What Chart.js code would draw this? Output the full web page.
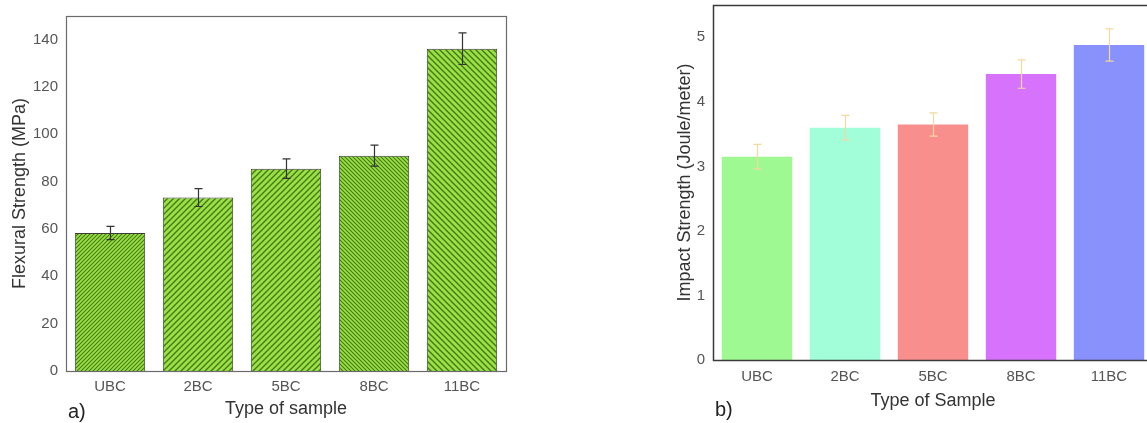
<!DOCTYPE html>
<html>
<head>
<meta charset="utf-8">
<script src="https://cdn.jsdelivr.net/npm/chart.js@4.4.0/dist/chart.umd.min.js"></script>
<style>
  html, body { margin: 0; padding: 0; background: #fff; overflow: hidden; width: 1147px; height: 423px; }
  #left { position: absolute; left: 0; top: 0; }
  #right { position: absolute; left: 640px; top: 0; }
  .tag { position: absolute; font-family: "Liberation Sans", Arial, sans-serif; font-size: 20px; color: #222; line-height: 1; }
</style>
</head>
<body>
<canvas id="left" width="520" height="423"></canvas>
<canvas id="right" width="520" height="423"></canvas>
<div class="tag" style="left:68px; top:401px;">a)</div>
<div class="tag" style="left:715px; top:399px;">b)</div>
<script>
// data
const samples = ["UBC", "2BC", "5BC", "8BC", "11BC"];
const flexural = [58.3, 73.3, 85.5, 91.0, 136.2];
const flexuralErr = [2.8, 3.8, 4.1, 4.4, 6.7];
const flexTicks = [0, 20, 40, 60, 80, 100, 120, 140];

const impact = [3.15, 3.6, 3.65, 4.43, 4.88];
const impactErr = [0.19, 0.19, 0.18, 0.22, 0.25];
const impactTicks = [0, 1, 2, 3, 4, 5];

const FONT = "'Liberation Sans', Arial, sans-serif";

// hatch style per bar on the left panel: direction (1 = "/", -1 = "\") and spacing
const hatchDir = [1, 1, 1, -1, -1];
const hatchGap = [4, 6, 6, 4, 6];
const impactColors = ["#9ef993", "#a2fdd9", "#f88f8c", "#d672fb", "#8991fd"];

function hatch(ctx, dir, gap) {
  const c = document.createElement("canvas");
  c.width = gap; c.height = gap;
  const g = c.getContext("2d");
  g.fillStyle = "#9be046";
  g.fillRect(0, 0, gap, gap);
  g.strokeStyle = "#437a14";
  g.lineWidth = gap > 4 ? 1.4 : 1.1;
  g.beginPath();
  if (dir > 0) {
    g.moveTo(-1, gap + 1); g.lineTo(gap + 1, -1);
    g.moveTo(-1, 1); g.lineTo(1, -1);
    g.moveTo(gap - 1, gap + 1); g.lineTo(gap + 1, gap - 1);
  } else {
    g.moveTo(-1, -1); g.lineTo(gap + 1, gap + 1);
    g.moveTo(gap - 1, -1); g.lineTo(gap + 1, 1);
    g.moveTo(-1, gap - 1); g.lineTo(1, gap + 1);
  }
  g.stroke();
  return ctx.createPattern(c, "repeat");
}

const errorBars = {
  id: "errorBars",
  afterDatasetsDraw(chart, args, opts) {
    const ctx = chart.ctx;
    const y = chart.scales.y;
    const meta = chart.getDatasetMeta(0);
    const vals = chart.data.datasets[0].data;
    ctx.save();
    ctx.strokeStyle = opts.color;
    ctx.lineWidth = opts.width;
    meta.data.forEach((bar, i) => {
      const x = Math.round(bar.x) + 0.5;
      const top = y.getPixelForValue(vals[i] + opts.errors[i]);
      const bot = y.getPixelForValue(vals[i] - opts.errors[i]);
      ctx.beginPath();
      ctx.moveTo(x, top); ctx.lineTo(x, bot);
      ctx.moveTo(x - opts.cap, top); ctx.lineTo(x + opts.cap, top);
      ctx.moveTo(x - opts.cap, bot); ctx.lineTo(x + opts.cap, bot);
      ctx.stroke();
    });
    ctx.restore();
  }
};

const frame = {
  id: "frame",
  afterDraw(chart, args, opts) {
    const a = chart.chartArea;
    const ctx = chart.ctx;
    ctx.save();
    ctx.strokeStyle = opts.color;
    ctx.lineWidth = opts.width;
    ctx.strokeRect(a.left + 0.5, a.top + 0.5, a.right - a.left, a.bottom - a.top);
    ctx.restore();
  }
};

// stop the axes from adding extra space for half-labels
function noPad(s) {
  s.paddingTop = 0; s.paddingBottom = 0; s.paddingLeft = 0; s.paddingRight = 0;
}

const leftCtx = document.getElementById("left").getContext("2d");
const patterns = samples.map((s, i) => hatch(leftCtx, hatchDir[i], hatchGap[i]));

const flexChart = new Chart(leftCtx, {
  type: "bar",
  data: {
    labels: samples,
    datasets: [{
      data: flexural,
      backgroundColor: patterns,
      borderColor: "#3a3a3a",
      borderWidth: 1,
      barPercentage: 0.8,
      categoryPercentage: 1,
    }],
  },
  options: {
    responsive: false,
    animation: false,
    devicePixelRatio: 1,
    layout: { padding: { top: 16, right: 14, bottom: 0, left: 0 } },
    plugins: {
      legend: { display: false },
      tooltip: { enabled: false },
      errorBars: { errors: flexuralErr, color: "#333", width: 1.2, cap: 4 },
      frame: { color: "#6b6b6b", width: 1.2 },
    },
    scales: {
      x: {
        grid: { display: false },
        border: { display: false },
        ticks: { color: "#555", font: { family: FONT, size: 15 }, padding: -1 },
        title: { display: true, text: "Type of sample", color: "#333", font: { family: FONT, size: 18 }, padding: { top: 0, bottom: 3 } },
        afterFit: (s) => { s.height = 52; noPad(s); },
      },
      y: {
        min: 0,
        max: 150,
        grid: { display: false },
        border: { display: false },
        afterBuildTicks: (s) => { s.ticks = flexTicks.map((v) => ({ value: v })); },
        ticks: { color: "#555", font: { family: FONT, size: 15 }, padding: 0 },
        title: { display: true, text: "Flexural Strength (MPa)", color: "#333", font: { family: FONT, size: 18 }, padding: { top: 9, bottom: 0 } },
        afterFit: (s) => { s.width = 66; noPad(s); },
      },
    },
  },
  plugins: [errorBars, frame],
});

const impactChart = new Chart(document.getElementById("right"), {
  type: "bar",
  data: {
    labels: samples,
    datasets: [{
      data: impact,
      backgroundColor: impactColors,
      borderWidth: 0,
      barPercentage: 0.8,
      categoryPercentage: 1,
    }],
  },
  options: {
    responsive: false,
    animation: false,
    devicePixelRatio: 1,
    layout: { padding: { top: 5, right: 7, bottom: 0, left: 0 } },
    plugins: {
      legend: { display: false },
      tooltip: { enabled: false },
      errorBars: { errors: impactErr, color: "#f2d9a0", width: 1.2, cap: 4 },
      frame: { color: "#3a3a3a", width: 1.5 },
    },
    scales: {
      x: {
        grid: { display: false },
        border: { display: false },
        ticks: { color: "#555", font: { family: FONT, size: 15 }, padding: 0 },
        title: { display: true, text: "Type of Sample", color: "#333", font: { family: FONT, size: 18 }, padding: { top: 0, bottom: 11 } },
        afterFit: (s) => { s.height = 63; noPad(s); },
      },
      y: {
        min: 0,
        max: 5.5,
        grid: { display: false },
        border: { display: false },
        afterBuildTicks: (s) => { s.ticks = impactTicks.map((v) => ({ value: v })); },
        ticks: { color: "#555", font: { family: FONT, size: 15 }, padding: 0 },
        title: { display: true, text: "Impact Strength (Joule/meter)", color: "#333", font: { family: FONT, size: 18 }, padding: { top: 34, bottom: 0 } },
        afterFit: (s) => { s.width = 73; noPad(s); },
      },
    },
  },
  plugins: [errorBars, frame],
});
</script>
</body>
</html>
